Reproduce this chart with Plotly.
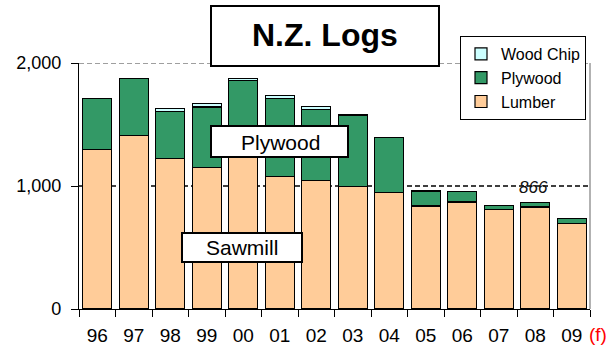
import plotly.graph_objects as go

# N.Z. log use by processing stream ('000 m3), 2009 forecast
years = ["96", "97", "98", "99", "00", "01", "02", "03", "04", "05", "06", "07", "08", "09"]
lumber = [1300, 1411, 1226, 1148, 1260, 1077, 1044, 993, 944, 838, 870, 807, 830, 693]
plywood = [413, 465, 378, 494, 597, 633, 576, 584, 453, 116, 87, 33, 36, 43]
wood_chip = [0, 0, 25, 30, 19, 25, 25, 0, 0, 11, 0, 0, 0, 0]
y_ticks = [0, 1000, 2000]
y_tick_labels = ["0", "1,000", "2,000"]

FONT = "Liberation Sans, Arial, sans-serif"
W, H = 614, 351
L, R, T, B = 79, 24, 63, 42
PW, PH = W - L - R, H - T - B


def px(x):
    return (x - L) / PW


def py(y):
    return (H - B - y) / PH


fig = go.Figure()
series = [
    ("Lumber", lumber, "#FFCC99"),
    ("Plywood", plywood, "#339966"),
    ("Wood Chip", wood_chip, "#CCFFFF"),
]
for name, vals, col in series:
    fig.add_trace(go.Bar(
        x=years, y=vals, name=name,
        marker=dict(color=col, line=dict(color="black", width=1.2)),
    ))

shapes = [
    # dashed reference lines
    dict(type="line", xref="paper", yref="y", x0=0, x1=1, y0=1000, y1=1000,
         line=dict(color="black", width=1.3, dash="5px,3px"), layer="below"),
    dict(type="line", xref="paper", yref="y", x0=0, x1=1, y0=2000, y1=2000,
         line=dict(color="#808080", width=1.3, dash="5px,3px"), layer="below"),
    # right frame edge
    dict(type="line", xref="paper", yref="paper", x0=1, x1=1, y0=0, y1=1,
         line=dict(color="#999999", width=1.5), layer="below"),
    # title box
    dict(type="rect", xref="paper", yref="paper", x0=px(211), x1=px(439),
         y0=py(66), y1=py(6), line=dict(color="black", width=2), fillcolor="white"),
    # stream label boxes
    dict(type="rect", xref="paper", yref="paper", x0=px(211), x1=px(348),
         y0=py(157), y1=py(126), line=dict(color="black", width=2), fillcolor="white"),
    dict(type="rect", xref="paper", yref="paper", x0=px(182), x1=px(302),
         y0=py(262), y1=py(233), line=dict(color="black", width=2), fillcolor="white"),
]


def label(text, x, y, size, color="black"):
    return dict(text=text, xref="paper", yref="paper", x=px(x), y=py(y),
                xanchor="center", yanchor="middle", showarrow=False,
                font=dict(family=FONT, size=size, color=color))


annotations = [
    label("<b>N.Z. Logs</b>", 325, 35, 32),
    label("Plywood", 280, 142, 21),
    label("Sawmill", 242, 247, 21),
    label("<i>866</i>", 533, 187, 17, "#111111"),
    label("(f)", 598, 334, 19, "red"),
]

fig.update_layout(
    width=W, height=H,
    margin=dict(l=L, r=R, t=T, b=B, pad=0, autoexpand=False),
    paper_bgcolor="white", plot_bgcolor="white",
    barmode="stack", bargap=0.2,
    font=dict(family=FONT, color="black"),
    shapes=shapes, annotations=annotations,
    showlegend=True,
    legend=dict(
        x=px(460), y=py(36), xanchor="left", yanchor="top",
        traceorder="reversed", bgcolor="white", bordercolor="black", borderwidth=1,
        font=dict(family=FONT, size=16, color="black"),
        itemwidth=30, tracegroupgap=0,
    ),
    xaxis=dict(
        type="category", showgrid=False, showline=True, linecolor="black", linewidth=1.2,
        ticks="outside", tickson="boundaries", ticklen=7, tickcolor="black",
        ticklabelstandoff=9, automargin=False,
        tickfont=dict(family=FONT, size=19, color="black"),
    ),
    yaxis=dict(
        range=[0, 2000], tickvals=y_ticks, ticktext=y_tick_labels,
        showgrid=False, zeroline=False, showline=True, linecolor="black", linewidth=1.2,
        ticks="outside", ticklen=7, tickcolor="black", ticklabelstandoff=6,
        automargin=False,
        tickfont=dict(family=FONT, size=18, color="black"),
    ),
)

fig.write_html("out.html")
